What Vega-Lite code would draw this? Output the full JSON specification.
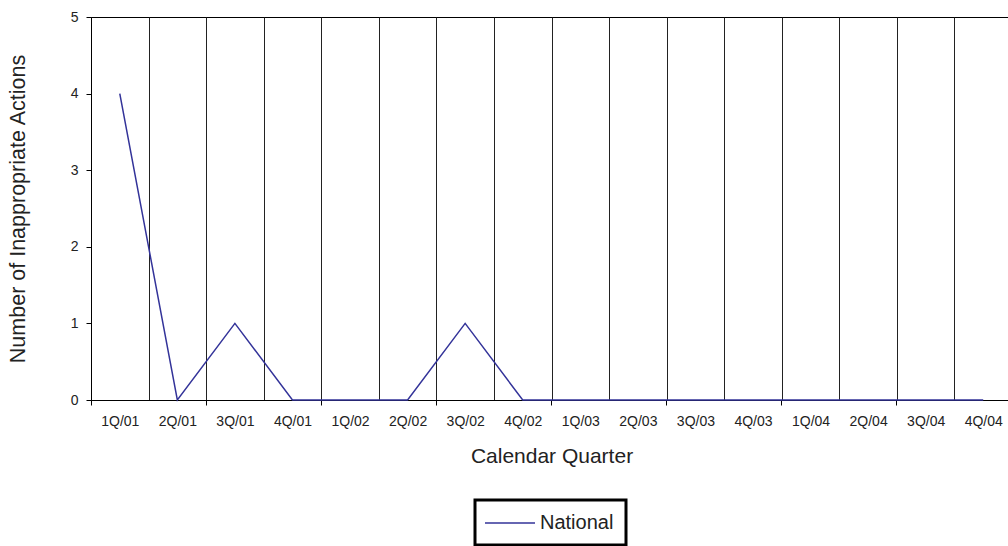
{
  "$schema": "https://vega.github.io/schema/vega-lite/v6.json",
  "autosize": "none",
  "padding": {"left": 91, "top": 17, "right": 0, "bottom": 146},
  "width": 921,
  "height": 383,
  "background": "white",
  "config": {
    "font": "Liberation Sans",
    "view": {"stroke": "black", "strokeWidth": 1},
    "axis": {"labelColor": "#222", "titleColor": "#222", "titleFontWeight": "normal", "domainColor": "black", "tickColor": "black"}
  },
  "data": {
    "values": [
      {"quarter": "1Q/01", "actions": 4, "series": "National"},
      {"quarter": "2Q/01", "actions": 0, "series": "National"},
      {"quarter": "3Q/01", "actions": 1, "series": "National"},
      {"quarter": "4Q/01", "actions": 0, "series": "National"},
      {"quarter": "1Q/02", "actions": 0, "series": "National"},
      {"quarter": "2Q/02", "actions": 0, "series": "National"},
      {"quarter": "3Q/02", "actions": 1, "series": "National"},
      {"quarter": "4Q/02", "actions": 0, "series": "National"},
      {"quarter": "1Q/03", "actions": 0, "series": "National"},
      {"quarter": "2Q/03", "actions": 0, "series": "National"},
      {"quarter": "3Q/03", "actions": 0, "series": "National"},
      {"quarter": "4Q/03", "actions": 0, "series": "National"},
      {"quarter": "1Q/04", "actions": 0, "series": "National"},
      {"quarter": "2Q/04", "actions": 0, "series": "National"},
      {"quarter": "3Q/04", "actions": 0, "series": "National"},
      {"quarter": "4Q/04", "actions": 0, "series": "National"}
    ]
  },
  "resolve": {"axis": {"x": "independent"}},
  "layer": [
    {
      "mark": {"type": "point", "opacity": 0},
      "encoding": {
        "x": {
          "field": "quarter", "type": "ordinal", "sort": null,
          "scale": {"type": "band", "paddingInner": 0, "paddingOuter": 0},
          "axis": {
            "orient": "bottom",
            "title": null,
            "labels": false,
            "grid": false,
            "domain": false,
            "ticks": true,
            "tickSize": 5,
            "tickColor": "black",
            "bandPosition": 0,
            "values": ["1Q/01", "3Q/01", "1Q/02", "3Q/02", "1Q/03", "3Q/03", "1Q/04", "3Q/04"]
          }
        },
        "y": {"field": "actions", "type": "quantitative"}
      }
    },
    {
      "mark": {"type": "line", "strokeWidth": 1.5},
      "encoding": {
        "x": {
          "field": "quarter", "type": "ordinal", "sort": null,
          "scale": {"type": "band", "paddingInner": 0, "paddingOuter": 0},
          "axis": {
            "orient": "bottom",
            "title": "Calendar Quarter",
            "titleFontSize": 21,
            "titlePadding": 17,
            "labelFontSize": 14,
            "labelAngle": 0,
            "labelPadding": 14,
            "ticks": false,
            "grid": true,
            "gridColor": "#222",
            "gridOpacity": 1,
            "gridWidth": 1,
            "tickBand": "extent",
            "domainColor": "black"
          }
        },
        "y": {
          "field": "actions", "type": "quantitative",
          "scale": {"domain": [0, 5], "nice": false},
          "axis": {
            "title": "Number of Inappropriate Actions",
            "titleFontSize": 21.5,
            "titlePadding": 41,
            "values": [0, 1, 2, 3, 4, 5],
            "format": "d",
            "labelFontSize": 14,
            "labelPadding": 8,
            "tickSize": 5,
            "grid": false
          }
        },
        "color": {
          "field": "series", "type": "nominal",
          "scale": {"range": ["#333399"]},
          "legend": {
            "title": null,
            "orient": "none",
            "legendX": 384,
            "legendY": 483,
            "strokeColor": "black",
            "padding": 12,
            "symbolType": "M-2.5,0H2.5",
            "symbolSize": 400,
            "symbolOffset": 12,
            "symbolStrokeWidth": 1.5,
            "labelFontSize": 20,
            "labelOffset": 19,
            "labelColor": "#222",
            "encode": {"legend": {"update": {"strokeWidth": {"value": 3}}}}
          }
        }
      }
    }
  ]
}
